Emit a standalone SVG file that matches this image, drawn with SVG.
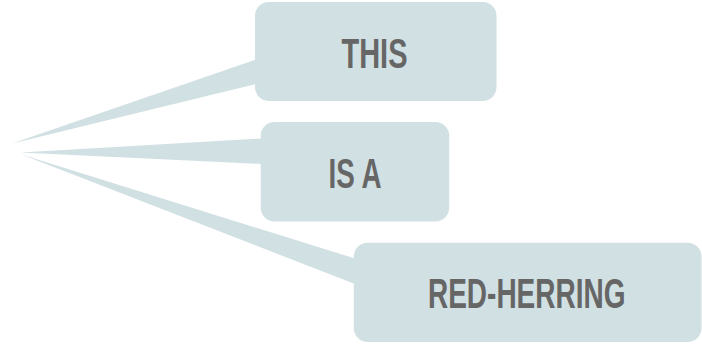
<svg xmlns="http://www.w3.org/2000/svg" width="702" height="346" viewBox="0 0 702 346">
  <style>
    .box { fill: #d1e0e3; }
    .wedge { fill: #d1e0e3; }
    .label { font-family: "Liberation Sans", Arial, sans-serif; font-weight: bold; font-size: 43px; fill: #666666; text-anchor: middle; }
  </style>
  <rect width="702" height="346" fill="#ffffff"/>
  <g id="connectors">
    <polygon class="wedge" points="12,143.5 256,59.5 256,84"/>
    <polygon class="wedge" points="20.5,152.5 262,138.5 262,164"/>
    <polygon class="wedge" points="21.5,154.5 355,258.5 355,284"/>
  </g>
  <g id="node-this">
    <rect class="box" x="255" y="2" width="241.5" height="99" rx="14" ry="14"/>
    <text class="label" transform="translate(374.5,68) scale(0.674,1)" x="0" y="0">THIS</text>
  </g>
  <g id="node-isa">
    <rect class="box" x="260.7" y="122" width="188.5" height="99.5" rx="14" ry="14"/>
    <text class="label" transform="translate(355,187.7) scale(0.646,1)" x="0" y="0">IS A</text>
  </g>
  <g id="node-redherring">
    <rect class="box" x="353.8" y="242.7" width="347.7" height="99.3" rx="14" ry="14"/>
    <text class="label" transform="translate(526.7,308.3) scale(0.651,1)" x="0" y="0">RED-HERRING</text>
  </g>
</svg>
